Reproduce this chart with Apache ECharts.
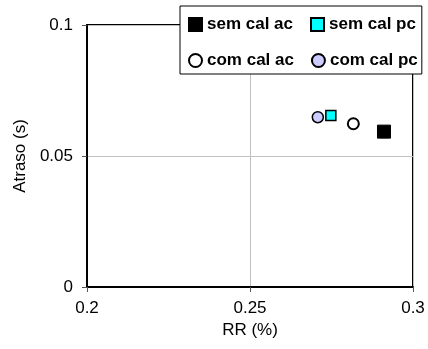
<!DOCTYPE html>
<html>
<head>
<meta charset="utf-8">
<script src="https://cdn.jsdelivr.net/npm/echarts@6/dist/echarts.min.js"></script>
<style>
  html, body { margin: 0; padding: 0; background: #ffffff; }
  #chart { width: 428px; height: 349px; }
</style>
</head>
<body>
<div id="chart"></div>
<script>
// Series names and their (RR, Atraso) points
const seriesNames = ['sem cal ac', 'sem cal pc', 'com cal ac', 'com cal pc'];
const semCalAc = [[0.2911, 0.0593]];
const semCalPc = [[0.2748, 0.0655]];
const comCalAc = [[0.2817, 0.0623]];
const comCalPc = [[0.2708, 0.0648]];

// Axis tick labels
const xTicks = ['0.2', '0.25', '0.3'];
const yTicks = ['0', '0.05', '0.1'];

const FONT = '"Liberation Sans", Arial, sans-serif';

const chart = echarts.init(document.getElementById('chart'), null, { renderer: 'canvas' });

function scatter(name, data, symbol, size, fill, borderWidth) {
  return {
    name: name,
    type: 'scatter',
    data: data,
    symbol: symbol,
    symbolSize: size,
    itemStyle: { color: fill, borderColor: '#000000', borderWidth: borderWidth, opacity: 1 },
    emphasis: { disabled: true },
    z: 5
  };
}

chart.setOption({
  animation: false,
  backgroundColor: '#ffffff',
  textStyle: { fontFamily: FONT },
  grid: {
    left: 87, right: 15, top: 25, bottom: 62,
    show: true, borderColor: '#000000', borderWidth: 2, backgroundColor: 'transparent'
  },
  legend: {
    data: seriesNames,
    left: 180, top: 6, width: 236,
    orient: 'horizontal',
    padding: [9, 4, 4, 8],
    itemGap: 17,
    itemWidth: 13, itemHeight: 13,
    backgroundColor: '#ffffff',
    borderColor: '#000000', borderWidth: 1, borderRadius: 0,
    textStyle: { fontFamily: FONT, fontSize: 17, fontWeight: 'bold', color: '#000000', lineHeight: 19 },
    selectedMode: false,
    z: 10
  },
  xAxis: {
    type: 'value',
    min: 0.2, max: 0.3, interval: 0.05,
    name: 'RR (%)', nameLocation: 'middle', nameGap: 33,
    nameTextStyle: { fontFamily: FONT, fontSize: 17, color: '#000000' },
    axisLine: { show: true, lineStyle: { color: '#000000', width: 2 } },
    axisTick: { show: true, inside: false, length: 5, lineStyle: { color: '#555555', width: 1 } },
    axisLabel: {
      margin: 13, fontFamily: FONT, fontSize: 17, color: '#000000',
      formatter: (v, i) => xTicks[i]
    },
    splitLine: { show: true, lineStyle: { color: '#c0c0c0', width: 1 } }
  },
  yAxis: {
    type: 'value',
    min: 0, max: 0.1, interval: 0.05,
    name: 'Atraso (s)', nameLocation: 'middle', nameGap: 53, nameRotate: 90,
    nameTextStyle: { fontFamily: FONT, fontSize: 17, color: '#000000' },
    axisLine: { show: true, lineStyle: { color: '#000000', width: 2 } },
    axisTick: { show: true, inside: false, length: 5, lineStyle: { color: '#555555', width: 1 } },
    axisLabel: {
      margin: 14, fontFamily: FONT, fontSize: 17, color: '#000000',
      formatter: (v, i) => yTicks[i]
    },
    splitLine: { show: true, lineStyle: { color: '#c0c0c0', width: 1 } }
  },
  series: [
    scatter(seriesNames[0], semCalAc, 'rect', 13, '#000000', 1),
    scatter(seriesNames[1], semCalPc, 'rect', 10, '#00ffff', 1.5),
    scatter(seriesNames[2], comCalAc, 'circle', 11, '#ffffff', 2),
    scatter(seriesNames[3], comCalPc, 'circle', 11, '#ccccff', 1.5)
  ]
});
</script>
</body>
</html>
